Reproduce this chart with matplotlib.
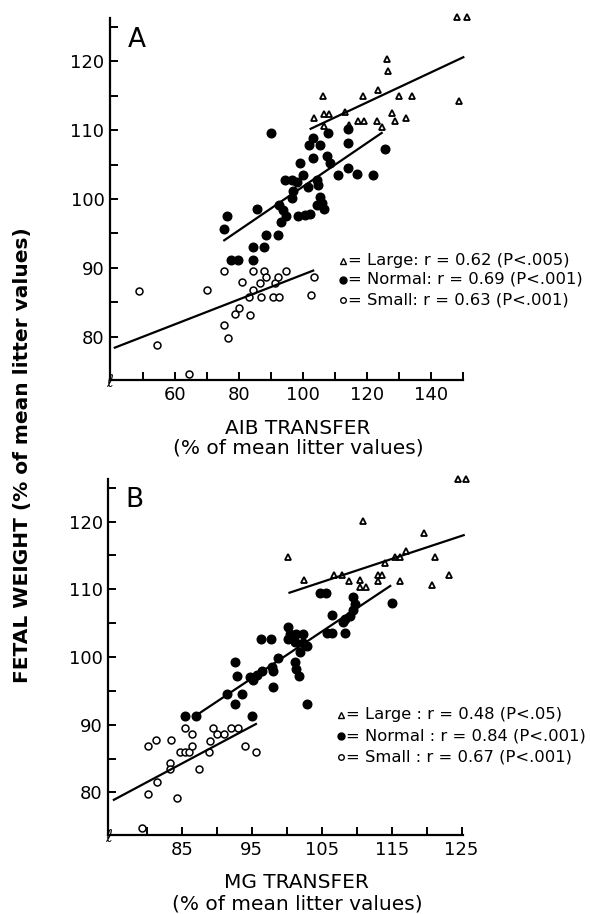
import numpy as np
import matplotlib
matplotlib.use('Agg')
import matplotlib.pyplot as plt

# ---- panel A : AIB transfer ----
a_large_x = [148, 151, 126.3, 126.6, 106.3, 118.8, 123.2, 130.0, 134.1, 148.8, 103.3, 106.5,
             108.0, 113.1, 106.5, 114.2, 117.2, 119.0, 123.0, 124.5, 127.8, 128.7, 132.1]
a_large_y = [126.4, 126.4, 120.3, 118.6, 114.9, 114.9, 115.9, 114.9, 114.9, 114.3, 111.7, 112.4,
             112.4, 112.6, 110.6, 110.7, 111.4, 111.4, 111.4, 110.5, 112.5, 111.3, 111.7]

a_norm_x = [89.8, 103.1, 101.9, 105.2, 107.8, 114.1, 114.1, 125.4, 102.9, 107.3, 108.4, 99.0,
            100.0, 111.0, 113.9, 116.7, 121.9, 94.3, 96.4, 97.9, 101.6, 104.2, 104.5, 96.7,
            96.4, 105.2, 105.8, 106.6, 104.2, 92.5, 93.7, 94.6, 93.0, 98.4, 100.5, 102.1,
            85.4, 76.2, 75.2, 88.5, 92.0, 84.3, 87.7, 77.4, 79.7, 84.2]
a_norm_y = [109.6, 108.9, 107.9, 107.9, 109.6, 108.1, 110.2, 107.3, 106.0, 106.2, 105.3, 105.2,
            103.5, 103.5, 104.5, 103.6, 103.5, 102.8, 102.7, 102.5, 101.8, 102.8, 102.0, 101.1,
            100.1, 100.3, 99.4, 98.5, 99.1, 99.1, 98.4, 97.5, 96.7, 97.5, 97.7, 97.8,
            98.5, 97.5, 95.7, 94.7, 94.7, 93.0, 93.0, 91.2, 91.2, 91.2]

a_small_x = [48.7, 54.4, 64.2, 70.0, 75.2, 75.3, 76.5, 78.6, 79.9, 81.0, 83.3, 83.1, 84.4,
             84.4, 86.4, 86.7, 87.7, 88.5, 90.6, 92.5, 91.1, 92.2, 94.5, 102.3, 103.4]
a_small_y = [86.7, 78.8, 74.6, 86.8, 89.5, 81.7, 79.8, 83.3, 84.2, 87.9, 83.2, 85.8, 89.5,
             86.8, 87.8, 85.8, 89.5, 88.6, 85.8, 85.8, 87.8, 88.6, 89.5, 86.0, 88.7]

# regression line end points
a_fit_large = ([102.3, 150.0], [110.2, 120.6])
a_fit_norm = ([75.3, 124.5], [94.0, 109.6])
a_fit_small = ([41.1, 103.1], [78.4, 89.6])

a_legend = ['Large: r = 0.62 (P<.005)', 'Normal: r = 0.69 (P<.001)', 'Small: r = 0.63 (P<.001)']

# ---- panel B : MG transfer ----
b_large_x = [124.5, 125.7, 110.9, 119.6, 100.2, 121.2, 102.5, 106.8, 107.9, 108.9, 110.5, 110.5,
             111.4, 113.0, 113.6, 113.1, 114.0, 115.5, 116.2, 117.1, 116.2, 120.7, 123.2]
b_large_y = [126.3, 126.3, 120.1, 118.3, 114.8, 114.8, 111.4, 112.1, 112.1, 111.3, 111.4, 110.3,
             110.3, 112.1, 112.1, 111.3, 113.9, 114.8, 114.8, 115.7, 111.3, 110.6, 112.1]

b_norm_x = [104.8, 105.6, 115.1, 109.5, 109.8, 109.5, 109.0, 106.5, 108.1, 108.3, 105.7, 106.5,
            108.4, 96.3, 97.8, 100.2, 100.5, 101.4, 102.4, 100.2, 101.2, 102.3, 102.9, 101.9,
            101.2, 101.4, 101.8, 98.7, 97.9, 98.1, 96.4, 94.8, 95.7, 95.2, 92.6, 92.9,
            91.4, 93.6, 98.1, 102.9, 92.6, 85.4, 87.0, 95.0]
b_norm_y = [109.5, 109.5, 108.0, 108.8, 107.8, 106.9, 106.1, 106.2, 105.1, 105.6, 103.5, 103.5,
            103.5, 102.6, 102.6, 104.4, 103.4, 103.4, 103.4, 102.6, 102.2, 102.0, 101.6, 100.7,
            99.3, 98.3, 97.2, 99.9, 98.5, 98.0, 98.0, 97.1, 97.3, 96.6, 99.3, 97.2,
            94.6, 94.6, 95.6, 93.1, 93.1, 91.3, 91.3, 91.3]

b_small_x = [79.3, 80.2, 81.3, 83.4, 80.2, 81.4, 83.3, 83.3, 84.3, 84.7, 85.5, 86.1, 85.4,
             86.4, 86.4, 87.5, 88.9, 89.0, 89.5, 90.0, 91.0, 92.0, 93.1, 94.1, 95.6]
b_small_y = [74.8, 86.8, 87.8, 87.8, 79.7, 81.6, 84.4, 83.4, 79.1, 85.9, 85.9, 85.9, 89.5,
             88.6, 86.9, 83.4, 86.0, 87.6, 89.5, 88.6, 88.6, 89.5, 89.5, 86.9, 86.0]

b_fit_large = ([100.4, 125.3], [109.5, 118.0])
b_fit_norm = ([87.1, 114.8], [91.4, 110.5])
b_fit_small = ([75.3, 95.6], [78.9, 90.1])

b_legend = ['Large : r = 0.48 (P<.05)', 'Normal : r = 0.84 (P<.001)', 'Small : r = 0.67 (P<.001)']

W, H = 590, 914
plt.rcParams['font.family'] = ['DejaVu Sans']
fig = plt.figure(figsize=(W / 100, H / 100), dpi=100)


def px(x, y):
    """pixel position (from top left) to figure fraction"""
    return x / W, 1 - y / H


def draw_panel(ax, large, norm, small, fits, xlim, xticks, xlabels, letter):
    ax.plot(large[0], large[1], '^', ms=5, mfc='white', mec='black', mew=1.3, clip_on=False)
    ax.plot(norm[0], norm[1], 'o', ms=6.2, color='black', clip_on=False)
    ax.plot(small[0], small[1], 'o', ms=5, mfc='white', mec='black', mew=1.1, clip_on=False)
    for fx, fy in fits:
        ax.plot(fx, fy, '-', color='black', lw=1.6, clip_on=False)

    ax.set_xlim(*xlim)
    ax.set_ylim(73.7, 126.3)
    ax.set_xticks(xticks)
    ax.set_xticklabels([str(t) if t in xlabels else '' for t in xticks])
    yt = np.arange(80, 126, 5)
    ax.set_yticks(yt)
    ax.set_yticklabels([str(t) if t % 10 == 0 and t <= 120 else '' for t in yt])
    ax.tick_params(direction='in', length=6, width=1.4, labelsize=13, pad=4)
    for s in ['top', 'right']:
        ax.spines[s].set_visible(False)
    for s in ['left', 'bottom']:
        ax.spines[s].set_linewidth(1.6)
    ax.text(0.075, 0.94, letter, transform=ax.transAxes, fontsize=19, ha='center', va='center')
    # axis break mark
    ax.text(0.0, -0.005, u'\u2113', transform=ax.transAxes, fontsize=12,
            ha='center', va='center', style='italic')


ax1 = fig.add_axes([110 / W, 1 - 380 / H, (463.3 - 110) / W, (380 - 18) / H])
draw_panel(ax1, (a_large_x, a_large_y), (a_norm_x, a_norm_y), (a_small_x, a_small_y),
           [a_fit_large, a_fit_norm, a_fit_small], (39.6, 150),
           list(range(50, 151, 10)), [60, 80, 100, 120, 140], 'A')

ax2 = fig.add_axes([108.3 / W, 1 - 835 / H, (463 - 108.3) / W, (835 - 479) / H])
draw_panel(ax2, (b_large_x, b_large_y), (b_norm_x, b_norm_y), (b_small_x, b_small_y),
           [b_fit_large, b_fit_norm, b_fit_small], (74.5, 125.2),
           list(range(80, 126, 5)), [85, 95, 105, 115, 125], 'B')

# legends drawn as text with marker symbols
markers = [dict(marker='^', ms=4, mfc='white', mec='black', mew=1.0),
           dict(marker='o', ms=5, color='black'),
           dict(marker='o', ms=4, mfc='white', mec='black', mew=1.0)]
for rows_y, sym_x, labels in [([260.7, 279.5, 300], 343, a_legend),
                              ([715, 736, 756.7], 341, b_legend)]:
    for yy, mk, lab in zip(rows_y, markers, labels):
        fx, fy = px(sym_x, yy)
        fig.add_artist(plt.Line2D([fx], [fy], transform=fig.transFigure, **mk))
        tx, ty = px(sym_x + 5, yy)
        fig.text(tx, ty, '= ' + lab, fontsize=11.8, ha='left', va='center')

# axis titles
fig.text(*px(298, 428), 'AIB TRANSFER', fontsize=14.5, ha='center', va='center')
fig.text(*px(298, 448), '(% of mean litter values)', fontsize=14.5, ha='center', va='center')
fig.text(*px(296, 883), 'MG TRANSFER', fontsize=14.5, ha='center', va='center')
fig.text(*px(297, 904), '(% of mean litter values)', fontsize=14.5, ha='center', va='center')
fig.text(*px(23, 455), 'FETAL WEIGHT (% of mean litter values)', fontsize=14.5,
         fontweight='bold', rotation=90, ha='center', va='center')

fig.savefig('out.png', dpi=100)
